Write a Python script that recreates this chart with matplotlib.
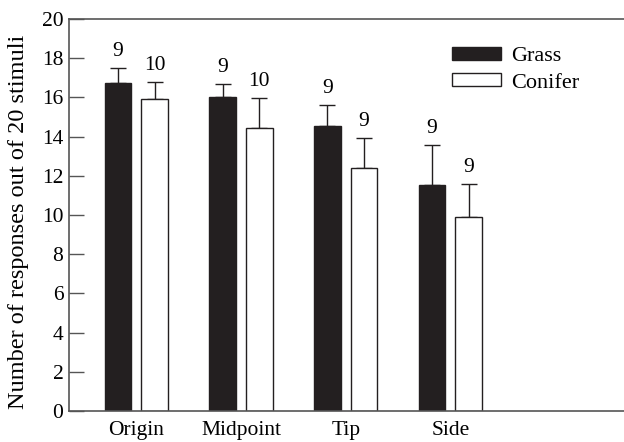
import numpy as np
import matplotlib.pyplot as plt

plt.rcParams["font.family"] = ["Liberation Serif", "DejaVu Serif"]

# 各组数据：均值、上误差、样本数
categories = ["Origin", "Midpoint", "Tip", "Side"]
grass = [16.75, 16.0, 14.55, 11.55]
grass_err = [0.77, 0.7, 1.07, 2.02]
grass_n = [9, 9, 9, 9]
conifer = [15.9, 14.45, 12.4, 9.9]
conifer_err = [0.9, 1.53, 1.52, 1.68]
conifer_n = [10, 10, 9, 9]

fig = plt.figure(figsize=(6.24, 4.42), dpi=100)
ax = fig.add_axes([69 / 624, 1 - 411 / 442, 555 / 624, 392 / 442])

x = np.arange(len(categories))
w = 0.255
off = 0.175
dark = "#231f20"

ax.bar(x - off, grass, w, color=dark, edgecolor=dark, linewidth=1, label="Grass", zorder=2)
ax.bar(x + off, conifer, w, color="white", edgecolor=dark, linewidth=1, label="Conifer", zorder=2)

# 只画向上的误差线
ax.errorbar(x - off, grass, yerr=[np.zeros(4), grass_err], fmt="none", ecolor=dark,
            elinewidth=1, capsize=5.5, capthick=1, zorder=1)
ax.errorbar(x + off, conifer, yerr=[np.zeros(4), conifer_err], fmt="none", ecolor=dark,
            elinewidth=1, capsize=5.5, capthick=1, zorder=1)

# 样本数标注
for xi, v, e, n in zip(x - off, grass, grass_err, grass_n):
    ax.annotate(str(n), (xi, v + e), xytext=(0, 5), textcoords="offset points",
                ha="center", va="bottom", fontsize=15.5)
for xi, v, e, n in zip(x + off, conifer, conifer_err, conifer_n):
    ax.annotate(str(n), (xi, v + e), xytext=(0, 5), textcoords="offset points",
                ha="center", va="bottom", fontsize=15.5)

ax.set_xlim(-0.643, 4.658)
ax.set_ylim(0, 20)
ax.set_yticks(range(0, 21, 2))
ax.set_xticks(x)
ax.set_xticklabels(categories)
ax.tick_params(axis="y", direction="in", length=11, width=1, color="#555555", labelsize=15.5, pad=4)
ax.tick_params(axis="x", length=0, labelsize=15.5, pad=7)
ax.set_ylabel("Number of responses out of 20 stimuli", fontsize=17.5)
ax.yaxis.set_label_coords(-0.072, 0.482)

for s in ["left", "bottom", "top"]:
    ax.spines[s].set_color("#555555")
    ax.spines[s].set_linewidth(1.2)
ax.spines["right"].set_visible(False)

ax.legend(loc="upper left", bbox_to_anchor=(452 / 624, 1 - 47 / 442),
          bbox_transform=fig.transFigure, frameon=False, fontsize=16,
          handlelength=2.2, handleheight=0.54, handletextpad=0.45, labelspacing=0.3,
          borderpad=0, borderaxespad=0)

fig.savefig("out.png", dpi=100)
